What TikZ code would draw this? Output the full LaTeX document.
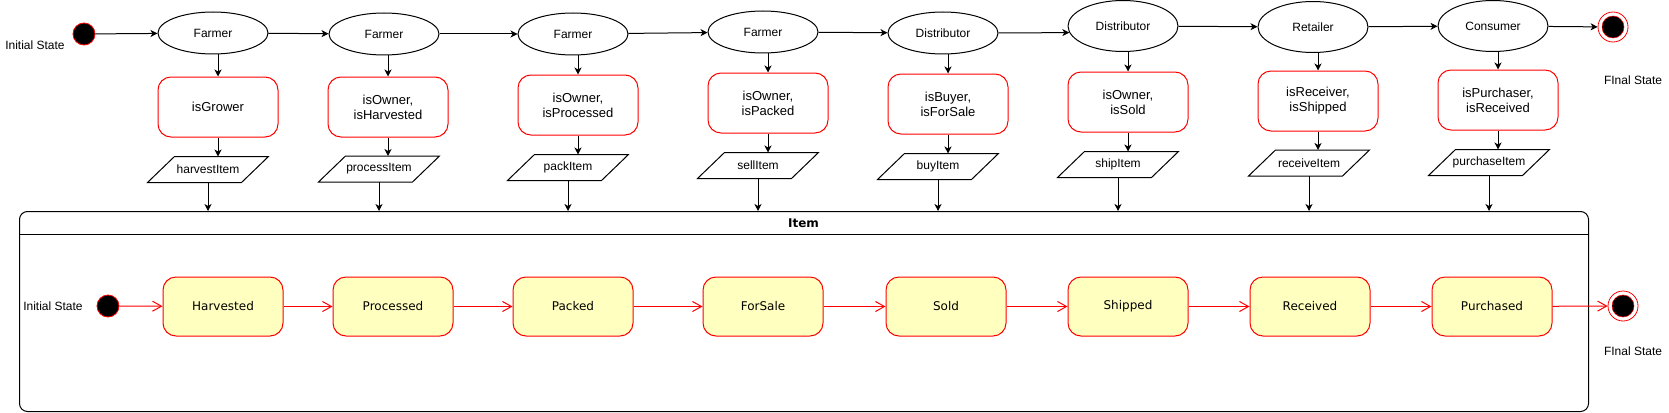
\documentclass[tikz,border=0pt]{standalone}
\usepackage{fontspec}
\setmainfont{Liberation Sans}
\newfontfamily\dvs{DejaVu Sans}
\usetikzlibrary{arrows.meta,shapes.geometric,calc}
\definecolor{stfill}{HTML}{FFFFC0}
\newcommand\drawpara[1]{\draw ($(#1.south west)$) -- ($(#1.south east)+(-27,0)$) -- (#1.north east) -- ($(#1.north west)+(27,0)$) -- cycle;}
\begin{document}
\begin{tikzpicture}[x=1pt,y=-1pt,line width=1pt,
  actor/.style={ellipse,draw,fill=white,minimum width=110pt,minimum height=42pt,inner sep=0pt,font=\fontsize{12}{14}\selectfont},
  tall/.style={minimum height=51pt},
  cond/.style={draw=red,fill=white,rounded corners=13pt,minimum width=120pt,minimum height=60pt,inner sep=0pt,align=center,font=\fontsize{13}{15}\selectfont},
  para/.style={minimum width=120pt,minimum height=25pt,inner sep=0pt,font=\fontsize{12}{14}\selectfont},
  stbox/.style={draw=red,fill=stfill,rounded corners=13pt,minimum width=120pt,minimum height=59pt,inner sep=0pt,font=\dvs\fontsize{12}{14}\selectfont},
  initst/.style={circle,draw=red,fill=black,minimum size=22pt,inner sep=0pt,line width=0.8pt},
  finalst/.style={circle,draw=red,fill=white,minimum size=30pt,inner sep=0pt,line width=0.8pt,
    path picture={\filldraw[draw=red,fill=black,line width=0.5pt] (path picture bounding box.center) circle (11pt);}},
  lbl/.style={font=\fontsize{12}{14}\selectfont,inner sep=0pt},
  blk/.style={-{Stealth[length=7pt,width=7pt,inset=2pt]}},
  redarr/.style={draw=red,-{Straight Barb[length=9pt,width=10pt]}}
]
\useasboundingbox (0,0) rectangle (1669,412);

% ---------- top row ----------
\node[initst] (i1) at (84,34) {};
\node[lbl] (i1l) at (35,45) {Initial State};

\node[actor] (a1) at (213,33) {Farmer};
\node[actor] (a2) at (384,34) {Farmer};
\node[actor] (a3) at (573,34) {Farmer};
\node[actor] (a4) at (763,32) {Farmer};
\node[actor] (a5) at (943,33) {Distributor};
\node[actor,tall] (a6) at (1123,26) {Distributor};
\node[actor,tall] (a7) at (1313,27) {Retailer};
\node[actor,tall] (a8) at (1493,26) {Consumer};

\node[finalst] (f1) at (1613,27) {};
\node[lbl] (f1l) at (1633,80) {FInal State};

\node[cond] (c1) at (218,107) {isGrower};
\node[cond] (c2) at (388,107) {isOwner,\\isHarvested};
\node[cond] (c3) at (578,105) {isOwner,\\isProcessed};
\node[cond] (c4) at (768,103) {isOwner,\\isPacked};
\node[cond] (c5) at (948,104) {isBuyer,\\isForSale};
\node[cond] (c6) at (1128,102) {isOwner,\\isSold};
\node[cond] (c7) at (1318,101) {isReceiver,\\isShipped};
\node[cond] (c8) at (1498,100) {isPurchaser,\\isReceived};

\node[para] (p1) at (208,169.5) {harvestItem};
\node[para] (p2) at (379,169) {processItem};
\node[para] (p3) at (568,167.5) {packItem};
\node[para] (p4) at (758,165.5) {sellItem};
\node[para] (p5) at (938,166.5) {buyItem};
\node[para] (p6) at (1118,164.5) {shipItem};
\node[para] (p7) at (1309,163) {receiveItem};
\node[para] (p8) at (1489,162.5) {purchaseItem};
\foreach \p in {p1,p2,p3,p4,p5,p6,p7,p8}{\drawpara{\p}}

% ---------- container ----------
\node[draw,rounded corners=8pt,minimum width=1569pt,minimum height=200pt,inner sep=0pt,anchor=north west] (item) at (19,211) {};
\draw ($(item.north west)+(0,23)$) -- ($(item.north east)+(0,23)$);
\node[font=\dvs\bfseries\fontsize{12}{14}\selectfont,inner sep=0pt] (iteml) at (803.5,223.5) {Item};

% ---------- top connectors ----------
\draw[blk] (i1) -- (a1);
\draw[blk] (a1) -- (a2);
\draw[blk] (a2) -- (a3);
\draw[blk] (a3) -- (a4);
\draw[blk] (a4) -- (a5);
\draw[blk] (a5.east) -- (a6.187);
\draw[blk] (a6) -- (a7);
\draw[blk] (a7) -- (a8);
\draw[blk] (a8) -- (f1);
\foreach \i in {1,...,8}{
  \draw[blk] (c\i.north |- a\i.south) -- (c\i.north);
  \draw[blk] (c\i.south) -- (c\i.south |- p\i.north);
  \draw[blk] (p\i.south) -- (p\i.south |- item.north);
}

% ---------- item states ----------
\node[initst] (i2) at (108,306) {};
\node[lbl] (i2l) at (53,306) {Initial State};
\node[stbox] (s1) at (223,306.5) {Harvested};
\node[stbox] (s2) at (393,306.5) {Processed};
\node[stbox] (s3) at (573,306.5) {Packed};
\node[stbox] (s4) at (763,306.5) {ForSale};
\node[stbox] (s5) at (946,306.5) {Sold};
\node[stbox] (s6) at (1128,306.5) {Shipped};
\node[stbox] (s7) at (1310,306.5) {Received};
\node[stbox] (s8) at (1492,306.5) {Purchased};
\node[finalst] (f2) at (1623,306) {};
\node[lbl] (f2l) at (1633,351) {FInal State};

\draw[redarr] (i2) -- (s1);
\draw[redarr] (s1) -- (s2);
\draw[redarr] (s2) -- (s3);
\draw[redarr] (s3) -- (s4);
\draw[redarr] (s4) -- (s5);
\draw[redarr] (s5) -- (s6);
\draw[redarr] (s6) -- (s7);
\draw[redarr] (s7) -- (s8);
\draw[redarr] (s8) -- (f2);
\end{tikzpicture}
\end{document}
